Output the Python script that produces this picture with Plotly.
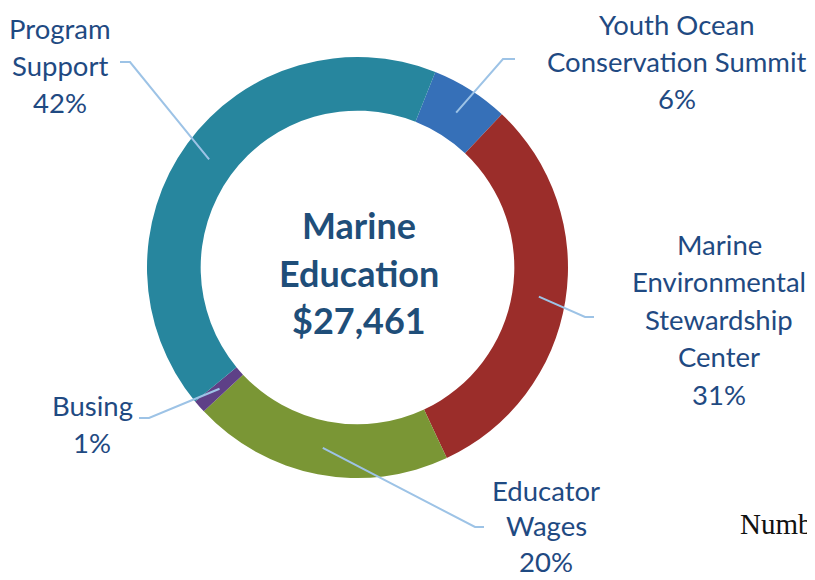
import math
import plotly.graph_objects as go

# ---- data ----
categories = ["Youth Ocean Conservation Summit", "Marine Environmental Stewardship Center",
              "Educator Wages", "Busing", "Program Support"]
label_lines = [["Youth Ocean", "Conservation Summit"],
               ["Marine", "Environmental", "Stewardship", "Center"],
               ["Educator", "Wages"],
               ["Busing"],
               ["Program", "Support"]]
percents = [6, 31, 20, 1, 42]
colors = ["#3670B8", "#9B2D2A", "#7A9635", "#5E4087", "#27869E"]
center_title = ["Marine", "Education", "$27,461"]

# page body has an 8px margin; work in window pixels and shift
OFF = 8
W, H = 815 - OFF, 580 - OFF
CX, CY = 357.5, 267.5
R_OUT, HOLE = 210.5, 0.745
ROT = 21.7

def px(x, y):
    return (x - OFF) / W, 1 - (y - OFF) / H

fig = go.Figure()
fig.add_trace(go.Pie(
    labels=categories, values=percents, sort=False, direction="clockwise",
    rotation=ROT, hole=HOLE, textinfo="none",
    marker=dict(colors=colors, line=dict(width=0)),
    domain=dict(x=[(CX - R_OUT - OFF) / W, (CX + R_OUT - OFF) / W],
                y=[1 - (CY + R_OUT - OFF) / H, 1 - (CY - R_OUT - OFF) / H]),
    showlegend=False,
))

LABEL_COLOR = "#1F4A82"
LINE_COLOR = "#9DC3E6"
FONT = "Lato"
# label layout: (center x, first line y, line height, elbow point, label-side start point)
label_layout = [
    (677, 24, 37.5, (503, 59), (515, 59)),
    (719, 244, 37.5, (585, 317), (594, 317)),
    (546, 490, 35.5, (475, 527), (484, 527)),
    (92, 405, 37.5, (149, 418), (139, 418)),
    (60, 28, 37.5, (130, 62), (120, 62)),
]

annotations = []
shapes = []
total = sum(percents)
start = ROT
r_mid = R_OUT * (1 + HOLE) / 2
for i, (lines, pct) in enumerate(zip(label_lines, percents)):
    cx, y0, lh, elbow, startpt = label_layout[i]
    for j, t in enumerate(lines + [f"{pct}%"]):
        xx, yy = px(cx, y0 + j * lh)
        annotations.append(dict(x=xx, y=yy, xref="paper", yref="paper", text=t,
                                showarrow=False, xanchor="center", yanchor="middle",
                                borderpad=0,
                                font=dict(family=FONT, size=27.5, color=LABEL_COLOR)))
    sweep = 360 * pct / total
    mid = math.radians(start + sweep / 2)
    start += sweep
    ex, ey = CX + r_mid * math.sin(mid), CY - r_mid * math.cos(mid)
    p0, p1, p2 = px(*startpt), px(*elbow), px(ex, ey)
    shapes.append(dict(type="path", xref="paper", yref="paper",
                       path=f"M {p0[0]},{p0[1]} L {p1[0]},{p1[1]} L {p2[0]},{p2[1]}",
                       line=dict(color=LINE_COLOR, width=2)))

for j, t in enumerate(center_title):
    xx, yy = px(CX + 1, 225 + j * 47.5)
    annotations.append(dict(x=xx, y=yy, xref="paper", yref="paper", text=f"<b>{t}</b>",
                            showarrow=False, xanchor="center", yanchor="middle",
                            font=dict(family=FONT, size=36, color="#1F4E79")))

xx, yy = px(738, 524)
annotations.append(dict(x=xx, y=yy, xref="paper", yref="paper", text="Numb",
                        showarrow=False, xanchor="left", yanchor="middle",
                        font=dict(family="Liberation Serif", size=29, color="#111111")))

fig.update_layout(width=W, height=H, margin=dict(l=0, r=0, t=0, b=0),
                  paper_bgcolor="white", plot_bgcolor="white",
                  annotations=annotations, shapes=shapes)
fig.write_html("out.html")
